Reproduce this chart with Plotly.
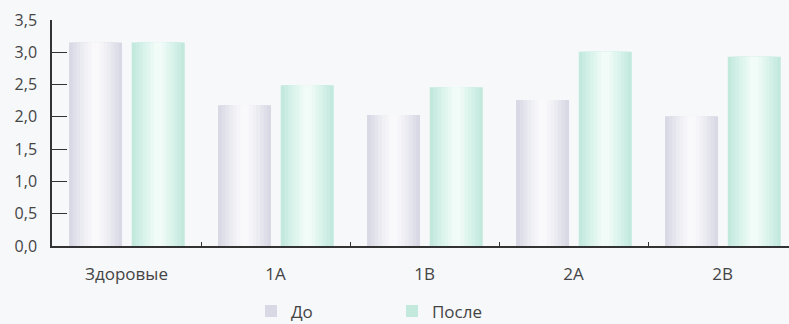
import plotly.graph_objects as go

categories = ["Здоровые", "1A", "1B", "2A", "2B"]
before = [3.15, 2.18, 2.03, 2.26, 2.01]
after = [3.15, 2.49, 2.46, 3.01, 2.93]
series_names = ["До", "После"]
y_ticks = [0, 0.5, 1, 1.5, 2, 2.5, 3, 3.5]

# gradient layers (edge -> center)
before_cols = ["#d9d9e5", "#dfdfea", "#e5e5ee", "#ebebf2", "#f0f0f5", "#f5f5f9", "#f9f9fb"]
after_cols = ["#c3e9dd", "#caece2", "#d2f0e7", "#daf3eb", "#e2f6f0", "#eaf9f4", "#f1fbf8"]
fracs = [1.0, 0.86, 0.72, 0.58, 0.44, 0.30, 0.16]

bar_w = 0.356
centers = {"До": -0.208, "После": 0.213}

fig = go.Figure()
for name, vals, cols in [("До", before, before_cols), ("После", after, after_cols)]:
    for i, (f, c) in enumerate(zip(fracs, cols)):
        w = bar_w * f
        fig.add_trace(go.Bar(
            x=categories, y=vals, name=name,
            width=[w] * len(vals), offset=[centers[name] - w / 2] * len(vals),
            marker=dict(color=c, line=dict(width=0)),
            showlegend=(i == 0), hoverinfo="skip" if i else None,
            legendgroup=name,
        ))

fig.update_layout(
    width=789, height=324,
    barmode="overlay",
    separators=", ",
    paper_bgcolor="#f6f8fa", plot_bgcolor="#f6f8fa",
    margin=dict(l=52, r=0, t=20, b=78, autoexpand=False),
    font=dict(family="Open Sans", size=17, color="#444"),
    legend=dict(orientation="h", x=0.27, xanchor="left", y=-0.29, yanchor="middle",
                bgcolor="rgba(0,0,0,0)", entrywidth=96, entrywidthmode="pixels",
                font=dict(size=17)),
    xaxis=dict(range=[-0.5, 4.446], showgrid=False, showline=True, linecolor="#333",
               linewidth=1.5, ticks="inside", ticklen=4, tickcolor="#333",
               tickson="boundaries", ticklabelstandoff=12, layer="below traces",
               tickfont=dict(size=17), automargin=False),
    yaxis=dict(range=[0, 3.5], tickvals=y_ticks, tickformat=".1f", showgrid=False,
               zeroline=False, showline=True, linecolor="#333", linewidth=1.5,
               ticks="inside", ticklen=15, tickcolor="#333", ticklabelstandoff=10,
               tickfont=dict(size=16), automargin=False),
)

fig.write_html("out.html")
